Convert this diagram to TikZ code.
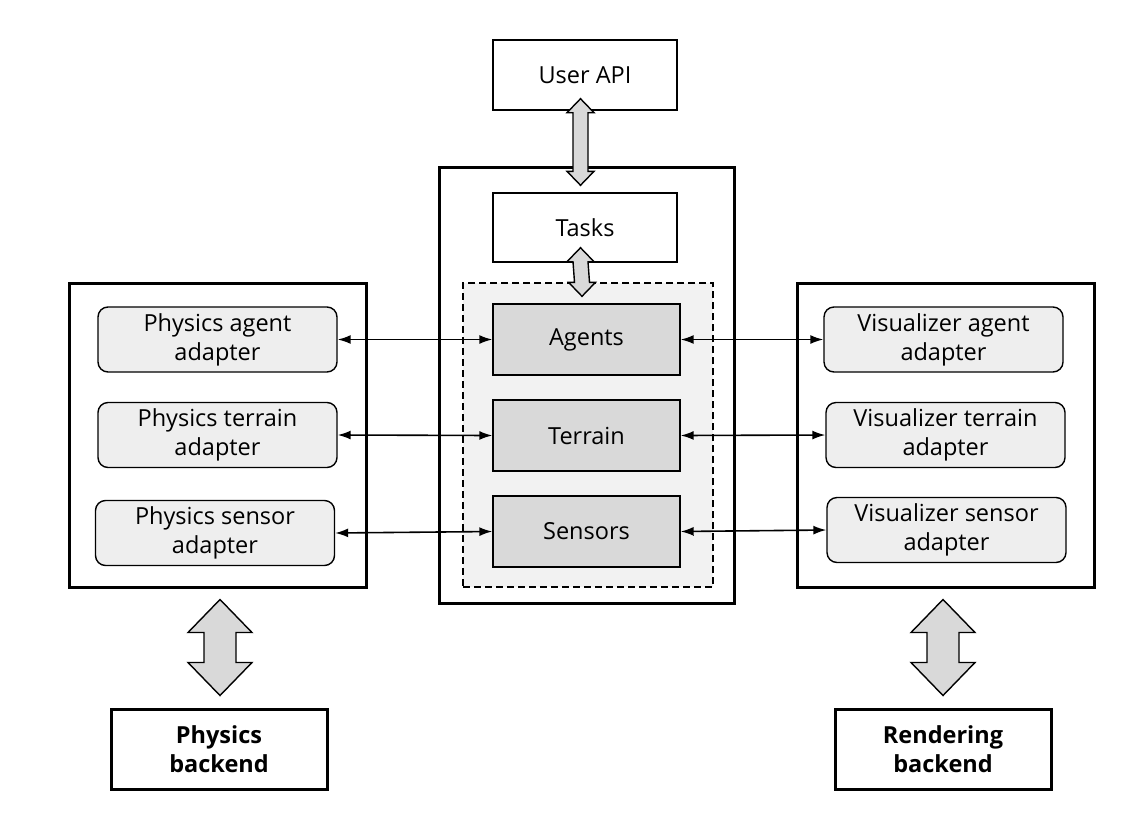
\documentclass[tikz,border=0pt]{standalone}
\usepackage{fontspec}
\setmainfont{Open Sans}
\usetikzlibrary{arrows.meta, calc}

\tikzset{
  plainbox/.style={draw, line width=1.4pt, fill=white, align=center, inner sep=0pt},
  heavybox/.style={draw, line width=3pt, inner sep=0pt},
  modulebox/.style={draw, line width=1.4pt, fill=gray!30, align=center, inner sep=0pt,
    minimum width=187pt, minimum height=71pt},
  adapterbox/.style={draw, line width=1.4pt, fill=gray!13, rounded corners=10pt, align=center,
    inner sep=0pt, minimum width=239pt, minimum height=65pt},
  backendbox/.style={draw, line width=3pt, fill=white, align=center, inner sep=0pt,
    minimum width=216pt, minimum height=80pt, font=\bfseries\fontsize{23.5}{29}\selectfont},
  fatarrow/.style={draw, line width=1.4pt, fill=gray!30, line join=miter},
  link/.style={{Latex[length=13pt,width=9pt]}-{Latex[length=13pt,width=9pt]}, line width=1.6pt}
}
% fat double arrow: top tip, bottom tip, half shaft, half head, head length
\newcommand{\fatlink}[5]{%
  \draw[fatarrow] (#1) -- ($(#1)+(#4,#5)$) -- ($(#1)+(#3,#5)$) -- ($(#2)+(#3,-#5)$)
    -- ($(#2)+(#4,-#5)$) -- (#2) -- ($(#2)+(-#4,-#5)$) -- ($(#2)+(-#3,-#5)$)
    -- ($(#1)+(-#3,#5)$) -- ($(#1)+(-#4,#5)$) -- cycle;}

\begin{document}
\begin{tikzpicture}[x=1pt, y=-1pt, font=\fontsize{23.5}{29}\selectfont]
  \useasboundingbox (0,0) rectangle (1131,838);
  % core of the framework
  \node[heavybox, minimum width=295pt, minimum height=436pt] (core) at (586.5,385) {};
  \node[plainbox, minimum width=184pt, minimum height=70pt] (api) at (585,75) {User API};
  \node[plainbox, minimum width=184pt, minimum height=69pt] (tasks) at (585,227.5) {Tasks};
  \node[draw, dash pattern=on 7pt off 4pt, line width=1.4pt, fill=gray!10,
    minimum width=250pt, minimum height=304pt] (world) at (588,435) {};
  \node[modulebox] (agents) at (586.5,339.5) {Agents};
  \node[modulebox] (terrain) at (586.5,435.5) {Terrain};
  \node[modulebox] (sensors) at (586.5,531.5) {Sensors};
  % physics side
  \node[heavybox, minimum width=297pt, minimum height=304pt] (physics) at (217.5,435) {};
  \node[adapterbox] (pagent) at (217.5,339.5) {Physics agent\\adapter};
  \node[adapterbox] (pterrain) at (217.5,435) {Physics terrain\\adapter};
  \node[adapterbox] (psensor) at (215,533) {Physics sensor\\adapter};
  % visualizer side
  \node[heavybox, minimum width=297pt, minimum height=304pt] (visual) at (945.5,435) {};
  \node[adapterbox] (vagent) at (943.5,339.5) {Visualizer agent\\adapter};
  \node[adapterbox] (vterrain) at (945.5,435) {Visualizer terrain\\adapter};
  \node[adapterbox] (vsensor) at (946.5,530) {Visualizer sensor\\adapter};
  % backends
  \node[backendbox] (pback) at (219,749) {Physics\\backend};
  \node[backendbox] (rback) at (943,749) {Rendering\\backend};
  % fat arrows
  \coordinate (apitop) at ($(api.south)+(-4.5,-12)$);
  \coordinate (apibot) at ($(tasks.north)+(-4.5,-7)$);
  \coordinate (tasktop) at ($(tasks.south)+(-4.5,-15)$);
  \coordinate (taskbot) at ($(agents.north)+(-4.5,-7)$);
  \coordinate (ptop) at ($(physics.south)+(2.5,11)$);
  \coordinate (pbot) at ($(pback.north)+(1,-12)$);
  \coordinate (rtop) at ($(visual.south)+(-2.5,11)$);
  \coordinate (rbot) at ($(rback.north)+(0,-12)$);
  \fatlink{apitop}{apibot}{7.5}{13.5}{14}
  \fatlink{tasktop}{taskbot}{7.5}{13.5}{14}
  \fatlink{ptop}{pbot}{16}{32}{33}
  \fatlink{rtop}{rbot}{16}{32}{33}
  % adapter links
  \draw[link] (pagent.east) -- (agents.west);
  \draw[link] (pterrain.east) -- (terrain.west);
  \draw[link] (psensor.east) -- (sensors.west);
  \draw[link] (agents.east) -- (vagent.west);
  \draw[link] (terrain.east) -- (vterrain.west);
  \draw[link] (sensors.east) -- (vsensor.west);
\end{tikzpicture}
\end{document}
